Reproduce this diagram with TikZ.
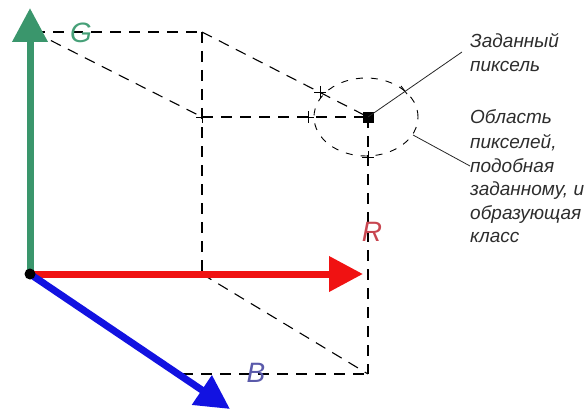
\documentclass[tikz,border=0pt]{standalone}
\usepackage{fontspec}
\setmainfont{Liberation Sans}
\usetikzlibrary{arrows.meta}
\definecolor{axG}{RGB}{58,150,108}
\definecolor{axR}{RGB}{240,18,18}
\definecolor{axB}{RGB}{18,18,225}
\definecolor{lbG}{RGB}{70,160,120}
\definecolor{lbR}{RGB}{200,70,80}
\definecolor{lbB}{RGB}{90,90,170}
\definecolor{txt}{RGB}{45,45,45}
\begin{document}
\begin{tikzpicture}[x=1pt,y=-1pt,
  axis/.style={line width=7pt,-{Triangle[length=34pt,width=34pt]}},
  guide/.style={draw=black,line width=1.1pt,dash pattern=on 11pt off 8pt},
  oval/.style={draw=black,line width=0.9pt,dash pattern=on 7pt off 8pt},
  leader/.style={draw=black!85,line width=0.8pt},
  xmark/.style={draw=black,line width=0.9pt},
  axlabel/.style={font=\fontsize{28}{28}\selectfont\itshape,inner sep=0pt},
  note/.style={font=\fontsize{19}{23.8}\selectfont\itshape,text=txt,anchor=base west,inner sep=0pt}]
\useasboundingbox (0,0) rectangle (588,409);
% points
\coordinate (O) at (30,274);
\coordinate (Gt) at (30,8);
\coordinate (Rt) at (363,274);
\coordinate (Bt) at (230,409);
\coordinate (G) at (34,32);
\coordinate (GT) at (202,32);
\coordinate (M) at (202,117);
\coordinate (RB) at (202,274);
\coordinate (P) at (368,117);
\coordinate (RR) at (368,274);
\coordinate (BR) at (368,374);
\coordinate (BL) at (182,374);
\coordinate (E) at (366,117);
% dashed guide lines
\draw[guide] (G) -- (GT);
\draw[guide] (G) -- (M);
\draw[guide] (GT) -- (RB);
\draw[guide] (GT) -- (P);
\draw[guide] (M) -- (P);
\draw[guide] (P) -- (BR);
\draw[guide] (RB) -- (BR);
\draw[guide] (BL) -- (BR);
% ellipse
\draw[oval] (E) ellipse [x radius=52pt,y radius=39pt];
% crossing marks
\foreach \p in {(202,117),(308,117),(368,157),(320,92)}{
  \draw[xmark] \p ++(-6,0) -- ++(12,0);
  \draw[xmark] \p ++(0,-6) -- ++(0,12);
}
\draw[xmark] (401,86) -- (407,94);
% axes
\draw[axis,draw=axG,fill=axG] (O) -- (Gt);
\draw[axis,draw=axR,fill=axR] (O) -- (Rt);
\draw[axis,draw=axB,fill=axB] (O) -- (Bt);
\fill[black] (O) circle (5.5pt);
% pixel
\node[fill=black,minimum size=11pt,inner sep=0pt] (px) at (P) {};
% axis labels
\node[axlabel,text=lbG] (lg) at (81,33) {G};
\node[axlabel,text=lbR] (lr) at (372,232) {R};
\node[axlabel,text=lbB] (lb) at (256,373) {B};
% notes
\node[note] (n1a) at (470,48) {Заданный};
\node[note] (n1b) at (470,72) {пиксель};
\node[note] (n2a) at (470,124) {Область};
\node[note] (n2b) at (470,148) {пикселей,};
\node[note] (n2c) at (470,172) {подобная};
\node[note] (n2d) at (470,195) {заданному, и};
\node[note] (n2e) at (470,219) {образующая};
\node[note] (n2f) at (470,242) {класс};
\coordinate (L1) at (462,52);
\coordinate (L2a) at (413,135);
\coordinate (L2b) at (470,166);
\draw[leader] (px.center) -- (L1);
\draw[leader] (L2a) -- (L2b);
\end{tikzpicture}
\end{document}
